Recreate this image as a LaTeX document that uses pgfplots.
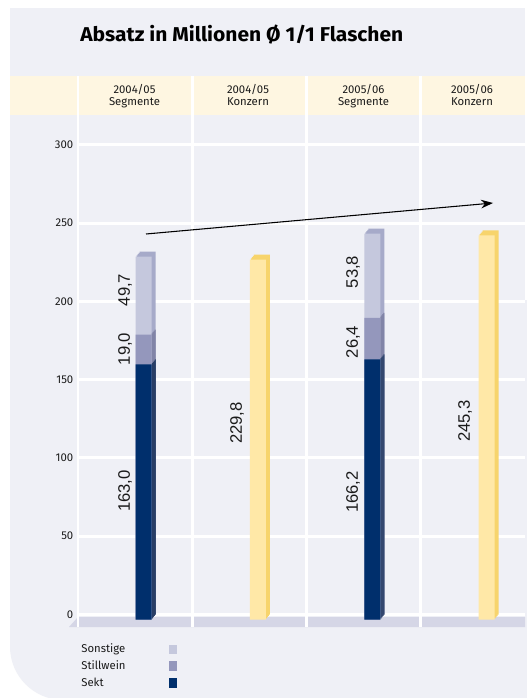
\documentclass[border=0pt]{standalone}
\usepackage{pgfplots}
\pgfplotsset{compat=1.18}
\usepackage{pgfplotstable}
\usetikzlibrary{arrows.meta}
\usepackage{fontspec}
\setmainfont{Fira Sans}
\newfontfamily\valfont{Liberation Sans}
\definecolor{panel}{HTML}{EFF0F6}
\definecolor{header}{HTML}{FEF6E1}
\definecolor{floorc}{HTML}{D5D6E6}
\definecolor{sekt}{HTML}{002F6C}
\definecolor{sektside}{HTML}{001F4A}
\definecolor{still}{HTML}{9497BC}
\definecolor{stillside}{HTML}{777A9E}
\definecolor{sonst}{HTML}{C5C8DD}
\definecolor{sonstside}{HTML}{A6AAC9}
\definecolor{kon}{HTML}{FFE8A7}
\definecolor{konside}{HTML}{F7D46C}
\definecolor{textc}{HTML}{1A1A1A}

\pgfplotstableread{
x sekt still sonst
0 163.0 19.0 49.7
2 166.2 26.4 53.8
}\segtable
\pgfplotstableread{
x konzern
1 229.8
3 245.3
}\kontable

\pgfplotsset{
  backface/.style 2 args={draw=none, bar shift=#1, yshift=#2, forget plot},
}
\newcommand{\backlayer}[2]{%
\addplot[fill=sonstside, backface={#1}{#2}] table[x=x, y expr=\thisrow{sekt}+\thisrow{still}+\thisrow{sonst}] {\segtable};
\addplot[fill=stillside, backface={#1}{#2}] table[x=x, y expr=\thisrow{sekt}+\thisrow{still}] {\segtable};
\addplot[fill=sektside, backface={#1}{#2}] table[x=x, y=sekt] {\segtable};
\addplot[fill=konside, backface={#1}{#2}] table[x=x, y=konzern] {\kontable};
}

\newsavebox\titlebox
\begin{document}
\sbox\titlebox{\fontsize{15}{18}\selectfont\bfseries Absatz in Millionen Ø 1/1 Flaschen}%
\pgfmathsetmacro{\tsx}{242.25/(\wd\titlebox)}%
\begin{tikzpicture}
\begin{scope}[x=0.75pt,y=-0.75pt]
\useasboundingbox (0,0) rectangle (525,698);
\fill[white] (0,0) rectangle (525,698);
\fill[panel] (10,8) rectangle (525,400);
\fill[panel, rounded corners=40] (10,300) rectangle (700,700);
\fill[header] (10,76) rectangle (525,115);
\fill[floorc] (69,627) -- (78,617) -- (525,617) -- (525,627) -- cycle;
\node[anchor=base west, inner sep=0pt, text=black] at (80,42) {\scalebox{\tsx}[1]{\usebox\titlebox}};
\foreach \cx/\ya/\yb in {134.5/2004\slash05/Segmente, 248/2004\slash05/Konzern, 363.5/2005\slash06/Segmente, 472/2005\slash06/Konzern}{
  \node[anchor=base, inner sep=0pt, text=textc, font=\fontsize{8.5}{10}\selectfont] at (\cx,94) {\ya};
  \node[anchor=base, inner sep=0pt, text=textc, font=\fontsize{8.5}{10}\selectfont] at (\cx,106) {\yb};
}
\end{scope}
\begin{axis}[
  at={(58.5pt,-470.25pt)}, anchor=south west,
  scale only axis, width=335.25pt, height=413.25pt,
  xmin=-0.5, xmax=3.4108, ymin=-7.98, ymax=343.9,
  ybar, bar width=12pt,
  axis line style={draw=none}, tick style={draw=none},
  xtick={0,1,2,3}, xticklabels={}, minor xtick={-0.5,0.5,1.5,2.5},
  xminorgrids=true, xmajorgrids=false,
  ytick={0,50,...,300}, ymajorgrids=true,
  major grid style={white, line width=2.2pt},
  minor grid style={white, line width=2.2pt},
  yticklabel style={font=\fontsize{8.5}{10}\selectfont, text=textc},
  /pgf/number format/assume math mode=true,
  legend image code/.code={\fill[#1, draw=none] (0pt,-3.6pt) rectangle (6pt,3.6pt);},
  legend plot pos=right,
  legend cell align=left,
  legend style={at={(0.004,-0.027)}, anchor=north west, draw=none, fill=none,
    font=\fontsize{8.5}{10}\selectfont, text=textc, inner sep=0pt,
    nodes={inner sep=1pt, text height=7pt, text depth=2pt}, row sep=1.6pt,
    /tikz/every odd column/.append style={column sep=31.5pt}},
]
% back faces (side / top), layered to approximate the slanted edges
\backlayer{9.375pt}{0pt}
\backlayer{8.625pt}{-0.95pt}
\backlayer{7.875pt}{-1.9pt}
\backlayer{7.125pt}{-2.85pt}
% front faces
\addplot[fill=sonst, draw=none, bar shift=6.375pt, yshift=-3.75pt, forget plot] table[x=x, y expr=\thisrow{sekt}+\thisrow{still}+\thisrow{sonst}] {\segtable};
\addplot[fill=still, draw=none, bar shift=6.375pt, yshift=-3.75pt, forget plot] table[x=x, y expr=\thisrow{sekt}+\thisrow{still}] {\segtable};
\addplot[fill=sekt, draw=none, bar shift=6.375pt, yshift=-3.75pt, forget plot] table[x=x, y=sekt] {\segtable};
\addplot[fill=kon, draw=none, bar shift=6.375pt, yshift=-3.75pt, forget plot] table[x=x, y=konzern] {\kontable};
\addlegendimage{fill=sonst}
\addlegendentry{Sonstige}
\addlegendimage{fill=still}
\addlegendentry{Stillwein}
\addlegendimage{fill=sekt}
\addlegendentry{Sekt}
\end{axis}
\begin{scope}[x=0.75pt,y=-0.75pt]
\draw[line width=0.8pt, -{Stealth[length=9pt,width=6.5pt]}] (146,234) -- (493,203);
\begin{scope}[every node/.style={rotate=90, font=\valfont\fontsize{12.5}{14}\selectfont, text=textc, inner sep=0pt}]
\node at (125,491) {163,0};
\node at (125,349) {19,0};
\node at (125,290) {49,7};
\node at (237,423) {229,8};
\node at (353,492) {166,2};
\node at (353,342) {26,4};
\node at (353,272) {53,8};
\node at (465,421) {245,3};
\end{scope}
\end{scope}
\end{tikzpicture}
\end{document}
